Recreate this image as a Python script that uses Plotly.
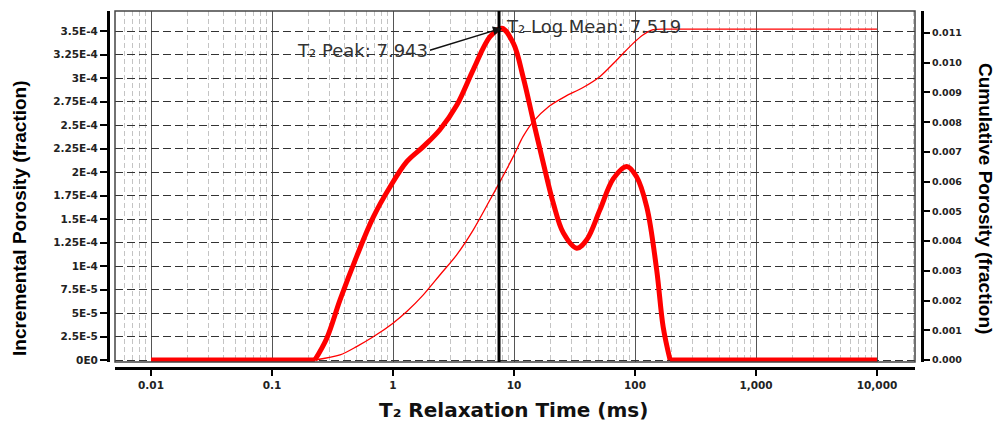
import math
import plotly.graph_objects as go

# ---------------- data ----------------
t2_inc = [0.01, 0.226, 0.283, 0.365, 0.5, 0.687, 0.944, 1.30, 1.78, 2.44, 3.36,
          4.61, 6.34, 7.943, 9.87, 11.9, 14.4, 17.5, 21.1, 25.6, 33.0, 39.9, 51.4,
          66.2, 85.4, 103, 125, 151, 171, 195, 10000]
inc_por = [0, 0, 2.3e-5, 6.4e-5, 1.10e-4, 1.52e-4, 1.84e-4, 2.11e-4, 2.27e-4,
           2.45e-4, 2.71e-4, 3.09e-4, 3.44e-4, 3.53e-4, 3.37e-4, 3.01e-4, 2.55e-4,
           2.09e-4, 1.67e-4, 1.35e-4, 1.19e-4, 1.28e-4, 1.60e-4, 1.93e-4, 2.06e-4,
           1.95e-4, 1.63e-4, 0.96e-4, 0.35e-4, 0, 0]

t2_cum = [0.01, 0.226, 0.365, 0.5, 0.687, 1.0, 1.30, 1.78, 2.44, 3.36, 4.61,
          6.34, 7.66, 9.87, 11.9, 14.4, 19.4, 26.6, 36.6, 51.4, 71, 97, 117, 141,
          180, 10000]
cum_por = [0, 0, 0.00017, 0.00045, 0.00078, 0.00124, 0.00163, 0.00219, 0.00286,
           0.00354, 0.00438, 0.00539, 0.0060, 0.00685, 0.00752, 0.00802, 0.00853,
           0.00887, 0.00915, 0.00954, 0.0101, 0.01066, 0.01094, 0.01111, 0.01113,
           0.01113]

t2_peak = 7.943
t2_logmean = 7.519
peak_value = 3.53e-4

x_tickvals = [0.01, 0.1, 1, 10, 100, 1000, 10000]
x_ticktext = ["0.01", "0.1", "1", "10", "100", "1,000", "10,000"]
y_tickvals = [i * 2.5e-5 for i in range(15)]
y_ticktext = ["0E0", "2.5E-5", "5E-5", "7.5E-5", "1E-4", "1.25E-4", "1.5E-4",
              "1.75E-4", "2E-4", "2.25E-4", "2.5E-4", "2.75E-4", "3E-4",
              "3.25E-4", "3.5E-4"]
y2_tickvals = [i * 0.001 for i in range(12)]
y2_ticktext = ["0.000", "0.001", "0.002", "0.003", "0.004", "0.005", "0.006",
               "0.007", "0.008", "0.009", "0.010", "0.011"]

# ---------------- figure ----------------
W, H = 1001, 428
ML, MR, MT, MB = 100, 70, 8, 56
PW, PH = W - ML - MR, H - MT - MB
box_l, box_r, box_t, box_b = 115, 915, 11, 362

def px_x(x):
    return (x - ML) / PW

def px_y(y):
    return (H - MB - y) / PH

red = "#ff0000"
tickfont = dict(family="DejaVu Sans, Verdana, sans-serif", size=10.5,
                color="#222", weight="bold")

def split(xs, ys):
    """flat zero tails (linear) and the smooth body (spline) of a curve"""
    tails_x = [xs[0], xs[1], None, xs[-2], xs[-1]]
    tails_y = [ys[0], ys[1], None, ys[-2], ys[-1]]
    return tails_x, tails_y, xs[1:-1], ys[1:-1]

fig = go.Figure()
cx0, cy0, cx1, cy1 = split(t2_cum, cum_por)
fig.add_trace(go.Scatter(x=cx0, y=cy0, mode="lines", yaxis="y2",
                         line=dict(color=red, width=1.3), connectgaps=False,
                         showlegend=False, hoverinfo="skip"))
fig.add_trace(go.Scatter(x=cx1, y=cy1, mode="lines", yaxis="y2",
                         line=dict(color=red, width=1.3, shape="spline",
                                   smoothing=0.8),
                         showlegend=False, hoverinfo="skip"))
ix0, iy0, ix1, iy1 = split(t2_inc, inc_por)
fig.add_trace(go.Scatter(x=ix0, y=iy0, mode="lines", connectgaps=False,
                         line=dict(color=red, width=5),
                         showlegend=False, hoverinfo="skip"))
fig.add_trace(go.Scatter(x=ix1, y=iy1, mode="lines",
                         line=dict(color=red, width=5, shape="spline",
                                   smoothing=1.0),
                         showlegend=False, hoverinfo="skip"))

fig.update_layout(
    width=W, height=H,
    margin=dict(l=ML, r=MR, t=MT, b=MB, autoexpand=False),
    paper_bgcolor="white", plot_bgcolor="white",
    xaxis=dict(
        type="log",
        range=[-2.2975, 4.314],
        domain=[px_x(box_l), px_x(box_r)],
        anchor="free", position=px_y(368),
        tickvals=x_tickvals, ticktext=x_ticktext,
        tickfont=tickfont, automargin=False,
        ticks="outside", ticklen=6, tickwidth=1.5, tickcolor="black",
        showline=True, linecolor="black", linewidth=3,
        showgrid=True, gridcolor="#555", gridwidth=1,
        minor=dict(showgrid=True, dtick="D1", gridcolor="#c4c4c4",
                   griddash="5px,3px", gridwidth=1, ticks=""),
        zeroline=False,
    ),
    yaxis=dict(
        range=[-2.1e-6, 3.713e-4],
        domain=[px_y(box_b), px_y(box_t)],
        anchor="free", position=px_x(108),
        tickvals=y_tickvals, ticktext=y_ticktext,
        tickfont=tickfont, automargin=False,
        ticks="outside", ticklen=7, tickwidth=1.5, tickcolor="black",
        showline=True, linecolor="black", linewidth=3,
        showgrid=True, gridcolor="#333", gridwidth=1, griddash="8px,4px",
        zeroline=False,
    ),
    yaxis2=dict(
        overlaying="y", side="right",
        range=[-0.000067, 0.01174],
        anchor="free", position=px_x(922), automargin=False,
        tickvals=y2_tickvals, ticktext=y2_ticktext,
        tickfont=dict(family="DejaVu Sans, Verdana, sans-serif", size=9.5,
                      color="#222", weight="bold"),
        ticks="outside", ticklen=6, tickwidth=1.5, tickcolor="black",
        showline=True, linecolor="black", linewidth=3,
        showgrid=False, zeroline=False,
    ),
)

# plot box
fig.add_shape(type="rect", xref="x domain", yref="y domain", x0=0, x1=1, y0=0, y1=1,
              line=dict(color="#444", width=1.5), layer="above")
# log-mean vertical line
fig.add_shape(type="line", xref="x", yref="y domain", x0=t2_logmean, x1=t2_logmean,
              y0=0, y1=1, line=dict(color="black", width=3), layer="above")

annfont = dict(family="DejaVu Sans, Verdana, sans-serif", size=18, color="#333")
fig.add_annotation(x=math.log10(t2_logmean), y=peak_value, xref="x", yref="y",
                   text="T₂ Log Mean: " + f"{t2_logmean:.3f}",
                   showarrow=False, xanchor="left", yanchor="middle", xshift=5,
                   yshift=2, font=annfont)
fig.add_annotation(x=math.log10(t2_peak), y=peak_value, xref="x", yref="y",
                   text="T₂ Peak: " + f"{t2_peak:.3f}",
                   showarrow=True, arrowhead=2, arrowsize=1.2, arrowwidth=1.5,
                   arrowcolor="#111", ax=-72, ay=22, xanchor="right",
                   yanchor="middle", font=annfont)

# axis titles
titlefont = dict(family="Liberation Sans, Arial, sans-serif", size=19,
                 color="black", weight="bold")
fig.add_annotation(xref="paper", yref="paper", x=px_x(20), y=px_y(218),
                   text="Incremental Porosity (fraction)", textangle=-90,
                   showarrow=False, xanchor="center", yanchor="middle",
                   font=titlefont)
fig.add_annotation(xref="paper", yref="paper", x=px_x(985), y=px_y(198),
                   text="Cumulative Porosity (fraction)", textangle=90,
                   showarrow=False, xanchor="center", yanchor="middle",
                   font=titlefont)
fig.add_annotation(xref="paper", yref="paper", x=px_x(513), y=px_y(410),
                   text="T₂ Relaxation Time (ms)",
                   showarrow=False, xanchor="center", yanchor="middle",
                   font=dict(family="DejaVu Sans, Verdana, sans-serif",
                             size=20, color="#111", weight="bold"))

fig.write_html("out.html",
               config={"displayModeBar": False},
               post_script="document.body.style.margin='0';"
                           "document.body.style.overflow='hidden';")
